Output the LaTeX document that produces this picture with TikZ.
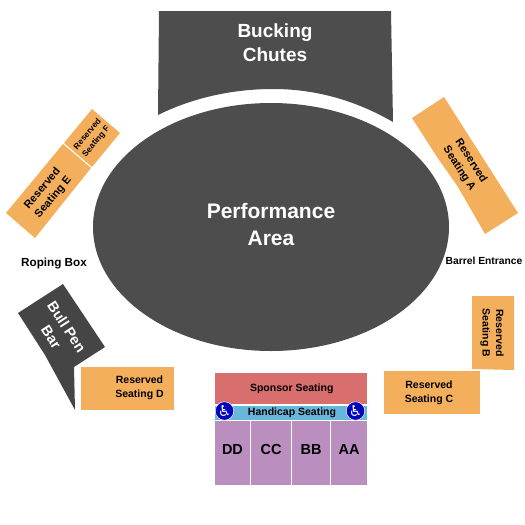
\documentclass[tikz,border=0pt]{standalone}
\usepackage{fontspec}
\usetikzlibrary{shapes.geometric}
\setmainfont{Liberation Sans}
\newfontfamily\symfont{DejaVu Sans}
\newcommand{\px}[1]{\fontsize{#1}{#1}\selectfont\bfseries}
\definecolor{seatorange}{HTML}{F4AF5D}
\definecolor{arenagray}{HTML}{4D4D4D}
\definecolor{sponsorred}{HTML}{D86E6E}
\definecolor{handicapblue}{HTML}{67B7DB}
\definecolor{boxpurple}{HTML}{BA8FC0}

\begin{document}
\begin{tikzpicture}[
  x=1pt, y=-1pt,
  seat/.style={fill=seatorange, inner sep=0pt, outer sep=0pt, minimum height=43pt, anchor=north west},
  pit/.style={fill=arenagray},
  lbl/.style={align=center, inner sep=0pt, font=\px{10.5}},
  white lbl/.style={lbl, text=white},
  section/.style={fill=boxpurple, inner sep=0pt, outer sep=0pt, minimum height=64pt, text height=10.5pt, text depth=8.5pt, font=\px{14.5}, anchor=north west},
  strip/.style={inner sep=0pt, outer sep=0pt, minimum width=152pt, anchor=north west},
  wheel/.style={circle, fill=blue!75!black, draw=white, line width=0.5pt, minimum size=18.5pt, inner sep=0pt, text=white, font=\symfont\fontsize{15}{15}\selectfont}
]
\useasboundingbox (0,0) rectangle (525,525);

% arena
\fill[pit] (159,11) -- (391,11) -- (393,122)
  .. controls (355,100) and (315,89) .. (273,89)
  .. controls (230,89) and (190,99) .. (158,115) -- cycle;
\node[white lbl, font=\px{19}] (chutes) at (275,43) {Bucking\\[5pt]Chutes};
\node[pit, ellipse, minimum width=356pt, minimum height=248pt, inner sep=0pt] (area) at (271,227) {};
\node[white lbl, font=\px{21}] (arealbl) at (271,224) {Performance\\[6pt]Area};

% angled blocks
\fill[seatorange] (92,109) -- (120,133) -- (92,167) -- (64,143) -- cycle;
\node[lbl, font=\px{8.3}, rotate=50] (resF) at (92,138) {Reserved\\[3pt]Seating F};
\fill[seatorange] (63,144) -- (91,168) -- (35,238) -- (6,213) -- cycle;
\node[lbl, font=\px{11}, rotate=50] (resE) at (48,193) {Reserved\\[3pt]Seating E};
\fill[seatorange] (444,97) -- (518,213) -- (485,234) -- (458,187) -- (437,157) -- (412,118) -- cycle;
\node[lbl, font=\px{11}, rotate=-57.5] (resA) at (465,165) {Reserved\\[3pt]Seating A};
\fill[seatorange] (472,296) -- (514,296) -- (514,370) -- (472,369) -- cycle;
\node[lbl, rotate=-90] (resB) at (492,333) {Reserved\\[3pt]Seating B};

\node[seat, minimum width=96pt] (resC) at (384,371) {};
\node[lbl] (resClbl) at (429,393) {Reserved\\[3pt]Seating C};
\node[seat, minimum width=93pt] (resD) at (81,367) {};
\node[lbl] (resDlbl) at (139.5,388) {Reserved\\[3pt]Seating D};

\fill[arenagray!90!black] (63,284) -- (105,347) -- (74,367) -- (75,410) -- (45,355) -- (18,313) -- cycle;
\node[white lbl, font=\px{14.5}, rotate=-57] (bullpen) at (59,332) {Bull Pen\\[4pt]Bar};

% free labels
\node[lbl, font=\px{11.7}] (roping) at (54,263) {Roping Box};
\node[lbl, font=\px{10.3}] (barrel) at (484,261) {Barrel Entrance};

% bottom block
\node[strip, fill=sponsorred, minimum height=31pt, font=\px{10.5}] (sponsor) at (215,373) {\hspace{1.5pt}Sponsor Seating};
\node[strip, fill=handicapblue, minimum height=14.5pt, font=\px{10.5}] (handicap) at (215,405.5) {\hspace{2pt}Handicap Seating};
\node[section, minimum width=35pt] (dd) at (215,421) {DD};
\node[section, minimum width=40pt] (cc) at (251,421) {CC};
\node[section, minimum width=38pt] (bb) at (292,421) {BB};
\node[section, minimum width=36pt] (aa) at (331,421) {AA};
\node[wheel] (wheelL) at (224.5,411) {♿};
\node[wheel] (wheelR) at (355.5,411) {♿};
\end{tikzpicture}
\end{document}
